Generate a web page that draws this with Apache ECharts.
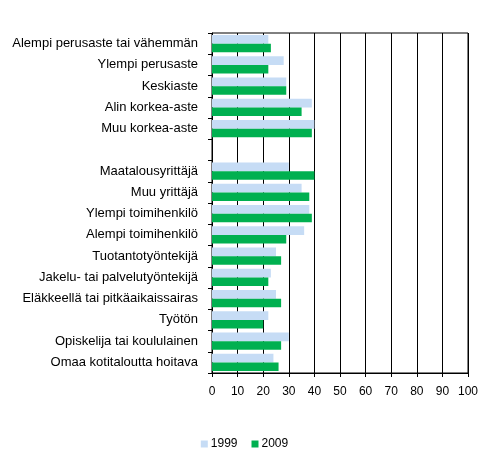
<!DOCTYPE html>
<html>
<head>
<meta charset="utf-8">
<script src="https://cdn.jsdelivr.net/npm/echarts@6/dist/echarts.min.js"></script>
<style>
  html, body { margin: 0; padding: 0; background: #fff; }
  #chart { width: 489px; height: 463px; }
</style>
</head>
<body>
<div id="chart"></div>
<script>
// luokat ylhäältä alas, tyhjä rivi erottaa ryhmät
const categories = [
  'Alempi perusaste tai vähemmän',
  'Ylempi perusaste',
  'Keskiaste',
  'Alin korkea-aste',
  'Muu korkea-aste',
  '',
  'Maatalousyrittäjä',
  'Muu yrittäjä',
  'Ylempi toimihenkilö',
  'Alempi toimihenkilö',
  'Tuotantotyöntekijä',
  'Jakelu- tai palvelutyöntekijä',
  'Eläkkeellä tai pitkäaikaissairas',
  'Työtön',
  'Opiskelija tai koululainen',
  'Omaa kotitaloutta hoitava'
];
const values1999 = [22, 28, 29, 39, 40, null, 30, 35, 38, 36, 25, 23, 25, 22, 30, 24];
const values2009 = [23, 22, 29, 35, 39, null, 40, 38, 39, 29, 27, 22, 27, 20, 27, 26];
const xTicks = [0, 100, 10];

const font = 'Liberation Sans, Arial, sans-serif';
const chart = echarts.init(document.getElementById('chart'));

chart.setOption({
  animation: false,
  grid: { left: 212, right: 21, top: 33, bottom: 90, show: true, borderColor: '#000', borderWidth: 1 },
  legend: {
    bottom: 8,
    left: 'center',
    itemWidth: 7,
    itemHeight: 7,
    itemGap: 14,
    icon: 'rect',
    textStyle: { fontFamily: font, fontSize: 12, color: '#000', padding: [0, 0, 0, -2] },
    data: ['1999', '2009']
  },
  xAxis: {
    type: 'value',
    min: xTicks[0],
    max: xTicks[1],
    interval: xTicks[2],
    axisLine: { show: true, lineStyle: { color: '#000' } },
    axisTick: { show: true, length: 4, lineStyle: { color: '#000' } },
    splitLine: { show: true, lineStyle: { color: '#000', width: 1 } },
    axisLabel: { fontFamily: font, fontSize: 12, color: '#000', margin: 13 }
  },
  yAxis: {
    type: 'category',
    inverse: true,
    data: categories,
    axisLine: { show: true, lineStyle: { color: '#000' } },
    axisTick: { show: true, length: 4, lineStyle: { color: '#000' } },
    axisLabel: { fontFamily: font, fontSize: 13, color: '#000', margin: 14, interval: 0, padding: [3, 0, 0, 0] }
  },
  series: [
    {
      name: '1999',
      type: 'bar',
      data: values1999,
      barGap: '0%',
      barCategoryGap: '18%',
      itemStyle: { color: '#c6dcf5' }
    },
    {
      name: '2009',
      type: 'bar',
      data: values2009,
      barGap: '0%',
      barCategoryGap: '18%',
      itemStyle: { color: '#00b050' }
    }
  ]
});
</script>
</body>
</html>
